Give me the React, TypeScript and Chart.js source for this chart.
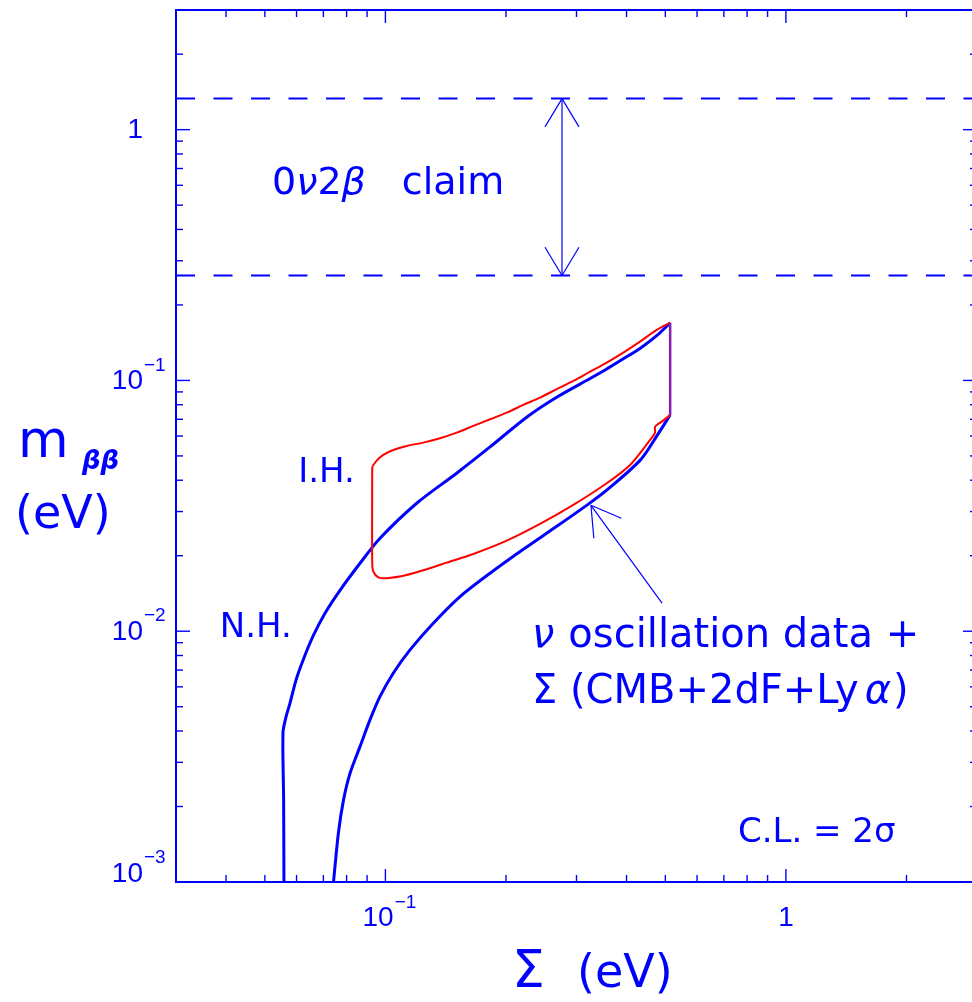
import React, { useEffect, useRef } from "react";
import { Chart, registerables } from "chart.js";

Chart.register(...registerables);

// ---------- axis ranges ----------
const sigmaRange = [0.03, 3];
const mbbRange = [0.001, 3];

// ---------- tick labels ----------
const xTickValues = [0.1, 1];
const xTickBases = ["10", "1"];
const xTickExps = ["\u22121", ""];
const yTickValues = [0.001, 0.01, 0.1, 1];
const yTickBases = ["10", "10", "10", "1"];
const yTickExps = ["\u22123", "\u22122", "\u22121", ""];

// ---------- Normal hierarchy band (blue) ----------
const nhUpperSigma = [0.0558, 0.0557, 0.0555, 0.05646, 0.05778, 0.0598, 0.06228, 0.06596, 0.07066, 0.07702, 0.08642, 0.09694, 0.1199, 0.1509, 0.1825, 0.2257, 0.2683, 0.3244, 0.3569, 0.3926, 0.4322, 0.4758, 0.514];
const nhUpperMbb = [0.001, 0.00212, 0.00394, 0.004545, 0.005165, 0.006378, 0.007662, 0.009552, 0.0118, 0.01456, 0.01866, 0.02347, 0.03245, 0.04277, 0.0543, 0.0715, 0.0859, 0.1018, 0.1111, 0.122, 0.1342, 0.1508, 0.1696];
const nhLowerSigma = [0.0742, 0.0763, 0.0786, 0.0816, 0.0864, 0.0915, 0.0969, 0.1046, 0.1152, 0.1317, 0.1536, 0.1825, 0.221, 0.2678, 0.3244, 0.3569, 0.4322, 0.4758, 0.514];
const nhLowerMbb = [0.001, 0.001565, 0.002125, 0.002715, 0.003466, 0.004429, 0.005484, 0.0068, 0.008424, 0.01076, 0.01374, 0.01703, 0.02122, 0.0262, 0.0325, 0.0365, 0.048, 0.06, 0.0728];

// ---------- Inverted hierarchy region (red) ----------
const ihUpperSigma = [0.0927, 0.0951, 0.0988, 0.1046, 0.113, 0.1243, 0.1369, 0.1507, 0.1658, 0.1825, 0.2009, 0.221, 0.2432, 0.2678, 0.2945, 0.3244, 0.3569, 0.3926, 0.4322, 0.4758, 0.514];
const ihUpperMbb = [0.0453, 0.0479, 0.0505, 0.0528, 0.0548, 0.0565, 0.0588, 0.0619, 0.0659, 0.07, 0.0744, 0.0799, 0.0854, 0.0923, 0.0995, 0.1084, 0.1178, 0.1291, 0.1428, 0.159, 0.17];
const ihLowerSigma = [0.0927, 0.0927, 0.0933, 0.096, 0.1007, 0.113, 0.1268, 0.1423, 0.1658, 0.2009, 0.2432, 0.2945, 0.3569, 0.4081, 0.458, 0.4713, 0.4713, 0.4898, 0.514];
const ihLowerMbb = [0.0453, 0.01866, 0.01729, 0.01641, 0.01627, 0.01677, 0.01767, 0.01877, 0.02033, 0.02297, 0.02678, 0.03189, 0.03891, 0.04603, 0.05793, 0.0619, 0.0654, 0.0685, 0.0728];

// ---------- 0ν2β claim band ----------
const claimBounds = [0.262, 1.33];
const claimArrowSigma = 0.276;

// ---------- annotation anchors (Σ, m_ββ) ----------
const claimLabelAt = [0.0521, 0.556];
const ihLabelAt = [0.0839, 0.0392];
const nhLabelAt = [0.0584, 0.00946];
const oscLine1At = [0.2323, 0.00864];
const oscLine2At = [0.2323, 0.00516];
const clLabelAt = [0.759, 0.00144];
const oscArrowTip = [0.326, 0.03177];
const oscArrowTail = [0.4906, 0.01294];

const BLUE = "#0000ff";
const RED = "#ff0000";
const PURPLE = "#8020b0";
const TXT = "'DejaVu Sans', sans-serif";
const NUM = "'Liberation Sans', Arial, sans-serif";

function seg(ctx: CanvasRenderingContext2D, x1: number, y1: number, x2: number, y2: number) {
  ctx.beginPath();
  ctx.moveTo(x1, y1);
  ctx.lineTo(x2, y2);
  ctx.stroke();
}

function arrowHead(ctx: CanvasRenderingContext2D, tx: number, ty: number, fx: number, fy: number) {
  const th = Math.atan2(fy - ty, fx - tx);
  const ang = (31 * Math.PI) / 180;
  const len = 33;
  for (const s of [-1, 1]) {
    const t = th + s * ang;
    seg(ctx, tx, ty, tx + len * Math.cos(t), ty + len * Math.sin(t));
  }
}

// draw a run of text pieces [text, italic, extraGap] starting at x
function runText(ctx: CanvasRenderingContext2D, pieces: [string, boolean, number?][], x: number, y: number, size: number) {
  let cx = x;
  for (const [t, it, gap] of pieces) {
    ctx.font = `${it ? "italic " : ""}${size}px ${TXT}`;
    ctx.fillText(t, cx, y);
    cx += ctx.measureText(t).width + (gap || 0);
  }
  return cx;
}

const decorPlugin = {
  id: "decor",
  afterDatasetsDraw(chart: any) {
    const { ctx, chartArea: a, scales } = chart;
    const xs = scales.x;
    const ys = scales.y;
    const X = (v: number) => xs.getPixelForValue(v);
    const Y = (v: number) => ys.getPixelForValue(v);
    ctx.save();
    ctx.strokeStyle = BLUE;
    ctx.fillStyle = BLUE;

    // frame
    ctx.lineWidth = 2;
    ctx.strokeRect(a.left, a.top, a.right - a.left, a.bottom - a.top);

    // ticks (inward, all four sides)
    ctx.lineWidth = 1.4;
    for (let e = -4; e <= 1; e++) {
      for (let m = 1; m <= 9; m++) {
        const v = m * Math.pow(10, e);
        if (v > sigmaRange[0] * 1.001 && v < sigmaRange[1] * 0.999) {
          const px = X(v);
          const len = m === 1 ? 13 : 7;
          seg(ctx, px, a.bottom, px, a.bottom - len);
          seg(ctx, px, a.top, px, a.top + len);
        }
        if (v > mbbRange[0] * 1.001 && v < mbbRange[1] * 0.999) {
          const py = Y(v);
          const len = m === 1 ? 14 : 7;
          seg(ctx, a.left, py, a.left + len, py);
          seg(ctx, a.right, py, a.right - len, py);
        }
      }
    }

    // tick labels
    const baseFont = `28px ${NUM}`;
    const expFont = `19px ${NUM}`;
    ctx.textBaseline = "middle";
    xTickValues.forEach((v, i) => {
      ctx.font = baseFont;
      const bw = ctx.measureText(xTickBases[i]).width;
      ctx.font = expFont;
      const ew = xTickExps[i] ? ctx.measureText(xTickExps[i]).width + 1 : 0;
      const x0 = X(v) - (bw + ew) / 2 + (ew ? 4 : 0);
      ctx.textAlign = "left";
      ctx.font = baseFont;
      ctx.fillText(xTickBases[i], x0, a.bottom + 36);
      if (ew) {
        ctx.font = expFont;
        ctx.fillText(xTickExps[i], x0 + bw + 1, a.bottom + 21);
      }
    });
    yTickValues.forEach((v, i) => {
      const cy = Math.min(Y(v) + 1, a.bottom - 8);
      const rx = a.left - 33;
      ctx.textAlign = "right";
      ctx.font = baseFont;
      ctx.fillText(yTickBases[i], rx, cy);
      if (yTickExps[i]) {
        ctx.textAlign = "left";
        ctx.font = expFont;
        ctx.fillText(yTickExps[i], rx + 1, cy - 16);
      }
    });

    // axis titles
    ctx.textBaseline = "alphabetic";
    ctx.textAlign = "left";
    ctx.font = `52px ${TXT}`;
    ctx.fillText("m", 18, 457);
    ctx.font = `italic bold 26px ${TXT}`;
    ctx.fillText("\u03b2\u03b2", 82, 469);
    ctx.font = `46px ${TXT}`;
    ctx.fillText("(eV)", 15, 528);
    ctx.font = `52px ${TXT}`;
    ctx.fillText("\u03a3", 512, 987);
    ctx.font = `46px ${TXT}`;
    ctx.fillText("(eV)", 577, 987);

    // claim arrow
    ctx.lineWidth = 1.2;
    const ax = X(claimArrowSigma);
    const yTop = Y(claimBounds[1]);
    const yBot = Y(claimBounds[0]);
    seg(ctx, ax, yTop, ax, yBot);
    arrowHead(ctx, ax, yTop, ax, yBot);
    arrowHead(ctx, ax, yBot, ax, yTop);

    // oscillation arrow
    const tx = X(oscArrowTip[0]);
    const ty = Y(oscArrowTip[1]);
    const fx = X(oscArrowTail[0]);
    const fy = Y(oscArrowTail[1]);
    seg(ctx, tx, ty, fx, fy);
    arrowHead(ctx, tx, ty, fx, fy);

    // texts
    runText(ctx, [["0", false], ["\u03bd", true], ["2", false], ["\u03b2", true, 36], ["claim", false]], X(claimLabelAt[0]), Y(claimLabelAt[1]), 38);

    ctx.font = `34px ${TXT}`;
    ctx.textAlign = "right";
    ctx.fillText("I.H.", X(ihLabelAt[0]), Y(ihLabelAt[1]));
    ctx.fillText("N.H.", X(nhLabelAt[0]), Y(nhLabelAt[1]));
    ctx.textAlign = "left";

    runText(ctx, [["\u03bd", true, 14], ["oscillation data +", false]], X(oscLine1At[0]), Y(oscLine1At[1]), 40);
    runText(ctx, [["\u03a3 (CMB+2dF+Ly", false, 6], ["\u03b1", true, 2], [")", false]], X(oscLine2At[0]), Y(oscLine2At[1]), 40);

    runText(ctx, [["C.L. = 2\u03c3", false]], X(clLabelAt[0]), Y(clLabelAt[1]), 34);

    ctx.restore();
  },
};

export default function App() {
  const ref = useRef<HTMLCanvasElement | null>(null);
  useEffect(() => {
    if (!ref.current) return;
    const pts = (xs: number[], ys: number[]) => xs.map((s, i) => ({ x: s, y: ys[i] }));
    const common = { showLine: true, pointRadius: 0, fill: false };
    const smooth = { ...common, tension: 0.3 };
    const straight = { ...common, tension: 0 };
    const claimLine = (v: number) => [
      { x: sigmaRange[0], y: v },
      { x: sigmaRange[1], y: v },
    ];
    const last = ihUpperSigma.length - 1;
    const lastL = ihLowerSigma.length - 1;
    const overlap = [
      { x: ihUpperSigma[last], y: ihUpperMbb[last] },
      { x: ihLowerSigma[lastL], y: ihLowerMbb[lastL] },
    ];
    const chart = new Chart(ref.current, {
      type: "scatter",
      data: {
        datasets: [
          { ...straight, data: overlap, borderColor: PURPLE, borderWidth: 2.5 },
          { ...smooth, data: pts(ihUpperSigma, ihUpperMbb), borderColor: RED, borderWidth: 2 },
          { ...smooth, data: pts(ihLowerSigma, ihLowerMbb), borderColor: RED, borderWidth: 2 },
          { ...smooth, data: pts(nhUpperSigma, nhUpperMbb), borderColor: BLUE, borderWidth: 3 },
          { ...smooth, data: pts(nhLowerSigma, nhLowerMbb), borderColor: BLUE, borderWidth: 3 },
          { ...straight, data: claimLine(claimBounds[1]), borderColor: BLUE, borderWidth: 2, borderDash: [19, 18.5] },
          { ...straight, data: claimLine(claimBounds[0]), borderColor: BLUE, borderWidth: 2, borderDash: [19, 18.5] },
        ],
      },
      options: {
        responsive: false,
        animation: false,
        layout: { padding: { left: 176, top: 10, right: 3, bottom: 120 } },
        scales: {
          x: { type: "logarithmic", min: sigmaRange[0], max: sigmaRange[1], display: false },
          y: { type: "logarithmic", min: mbbRange[0], max: mbbRange[1], display: false },
        },
        plugins: { legend: { display: false }, tooltip: { enabled: false } },
        elements: { point: { radius: 0 } },
      },
      plugins: [decorPlugin],
    } as any);
    return () => chart.destroy();
  }, []);
  return (
    <div style={{ position: "fixed", left: 0, top: 0, width: 972, height: 1002, overflow: "hidden", background: "#fff" }}>
      <canvas ref={ref} width={980} height={1002} style={{ display: "block", width: 980, height: 1002 }} />
    </div>
  );
}
